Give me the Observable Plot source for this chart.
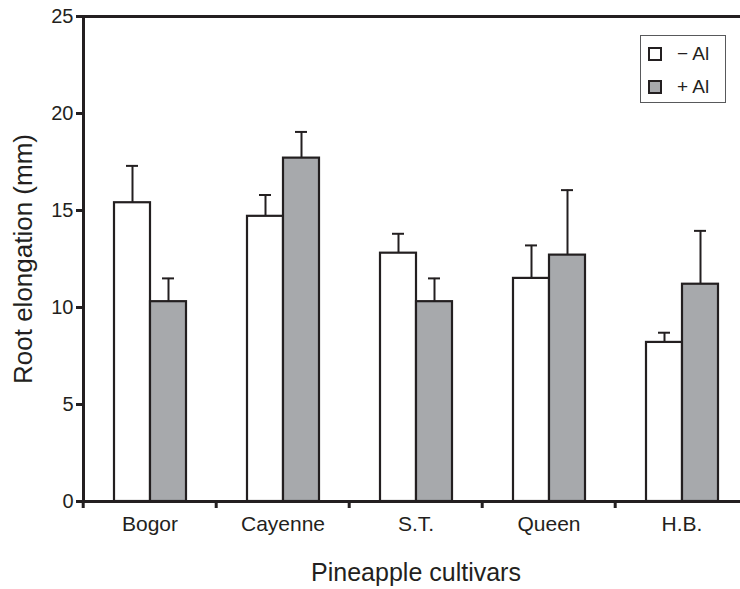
<!DOCTYPE html>
<html>
<head>
<meta charset="utf-8">
<script src="https://cdn.jsdelivr.net/npm/d3@7"></script>
<script src="https://cdn.jsdelivr.net/npm/@observablehq/plot@0.6"></script>
<style>
  html, body { margin: 0; padding: 0; background: white; overflow: hidden; }
  #wrap { position: relative; width: 740px; height: 589px; overflow: hidden; font-family: "Liberation Sans", Arial, sans-serif; }
  #legend { position: absolute; left: 640px; top: 35px; width: 84px; height: 66px; border: 1.5px solid #58595b; background: white; }
  .item { position: absolute; left: 7px; display: flex; align-items: center; font-size: 19px; color: #231f20; }
  .sw { width: 10px; height: 10px; border: 2.2px solid #231f20; margin-right: 15px; }
</style>
</head>
<body>
<div id="wrap">
  <div id="chart"></div>
  <div id="legend"></div>
</div>
<script>
const cultivars = ["Bogor", "Cayenne", "S.T.", "Queen", "H.B."];
const treatments = ["\u2212 Al", "+ Al"];
const minusAl = [15.4, 14.7, 12.8, 11.5, 8.2];
const minusAlSE = [1.9, 1.1, 1.0, 1.7, 0.5];
const plusAl = [10.3, 17.7, 10.3, 12.7, 11.2];
const plusAlSE = [1.2, 1.35, 1.2, 3.35, 2.75];
const yTicks = [0, 5, 10, 15, 20, 25];
const yLabel = "Root elongation (mm)";
const xLabel = "Pineapple cultivars";

const ink = "#231f20";
const grayFill = "#a7a9ac";

const rows = cultivars.flatMap((c, i) => [
  {cultivar: c, treatment: treatments[0], value: minusAl[i], se: minusAlSE[i]},
  {cultivar: c, treatment: treatments[1], value: plusAl[i], se: plusAlSE[i]}
]);

const W = 749, H = 589, mL = 81, mR = 0, mT = 16, mB = 88;
const halfStep = (W - mL - mR) / cultivars.length / 2;

const chart = Plot.plot({
  width: W, height: H,
  marginLeft: mL, marginRight: mR, marginTop: mT, marginBottom: mB,
  style: {fontFamily: "'Liberation Sans', Arial, sans-serif", color: ink, background: "white", maxWidth: "none", overflow: "visible"},
  fx: {domain: cultivars, padding: 0, axis: null},
  x: {domain: treatments, paddingInner: 0, paddingOuter: 0.82, axis: null},
  y: {domain: [0, 25], axis: null},
  color: {domain: treatments, range: ["white", grayFill]},
  marks: [
    Plot.barY(rows, {fx: "cultivar", x: "treatment", y: "value", fill: "treatment", stroke: ink, strokeWidth: 2.2}),
    Plot.ruleX(rows, {fx: "cultivar", x: "treatment", y1: "value", y2: d => d.value + d.se, stroke: ink, strokeWidth: 2}),
    Plot.tickY(rows, {fx: "cultivar", x: "treatment", y: d => d.value + d.se, stroke: ink, strokeWidth: 2, insetLeft: 12, insetRight: 12}),
    Plot.ruleY([0, 25], {stroke: ink, strokeWidth: 3}),
    Plot.frame({anchor: "left", facetAnchor: "left", stroke: ink, strokeWidth: 3}),
    Plot.axisY({ticks: yTicks, tickSize: 7, tickPadding: 3, stroke: ink, strokeWidth: 3, fontSize: 20, label: null}),
    Plot.axisFx({anchor: "bottom", tickSize: 0, tickPadding: 15, fontSize: 21, label: null}),
    Plot.axisFx({anchor: "bottom", tickSize: 7, dx: -halfStep, tickFormat: () => "", stroke: ink, strokeWidth: 3, label: null}),
    Plot.text([yLabel], {facet: "super", frameAnchor: "left", textAnchor: "middle", rotate: -90, dx: -60, fontSize: 26, fill: ink}),
    Plot.text([xLabel], {facet: "super", frameAnchor: "bottom", dy: 79, fontSize: 25, fill: ink})
  ]
});
document.getElementById("chart").appendChild(chart);

// legend
const legend = document.getElementById("legend");
const fills = ["white", grayFill];
treatments.forEach((t, i) => {
  const item = document.createElement("div");
  item.className = "item";
  item.style.top = (7 + i * 33) + "px";
  const sw = document.createElement("div");
  sw.className = "sw";
  sw.style.background = fills[i];
  const label = document.createElement("span");
  label.textContent = t;
  item.appendChild(sw);
  item.appendChild(label);
  legend.appendChild(item);
});
</script>
</body>
</html>
